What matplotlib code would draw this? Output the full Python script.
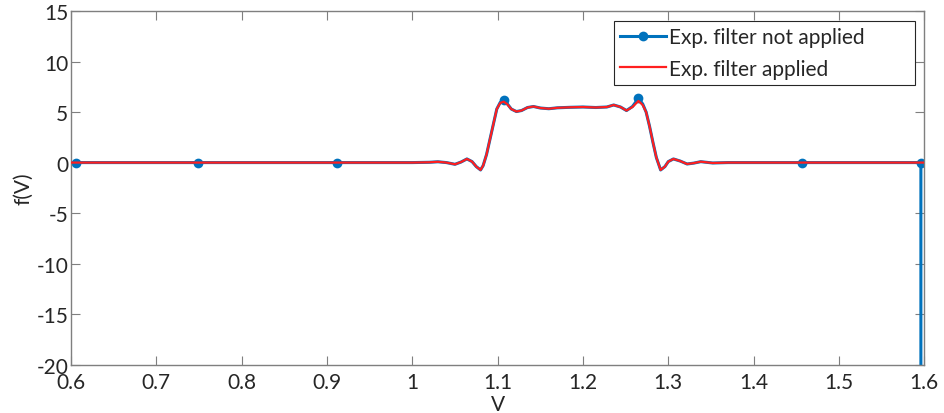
import matplotlib
matplotlib.use("Agg")
import matplotlib.pyplot as plt

plt.rcParams['font.family'] = ['Lato', 'DejaVu Sans']
plt.rcParams['axes.unicode_minus'] = False

# Curve samples (V, f(V))
v = [0.600, 0.606, 0.749, 0.912, 1.000, 1.020, 1.030, 1.040, 1.050, 1.057, 1.064,
     1.070, 1.075, 1.080, 1.083, 1.087, 1.091, 1.095, 1.099, 1.103, 1.107, 1.111,
     1.116, 1.122, 1.128, 1.135, 1.142, 1.150, 1.160, 1.170, 1.185, 1.200, 1.215,
     1.228, 1.236, 1.244, 1.251, 1.258, 1.265, 1.270, 1.274, 1.278, 1.282, 1.286,
     1.291, 1.296, 1.300, 1.306, 1.314, 1.322, 1.330, 1.338, 1.352, 1.370, 1.457,
     1.596]
f_filtered = [0.0, 0.0, 0.0, 0.0, 0.0, 0.03, 0.08, 0.0, -0.17, 0.05, 0.36,
              0.1, -0.4, -0.73, -0.3, 0.8, 2.3, 3.8, 5.3, 5.9, 6.03, 5.8,
              5.3, 5.05, 5.15, 5.45, 5.55, 5.4, 5.33, 5.42, 5.47, 5.5, 5.45,
              5.5, 5.7, 5.5, 5.15, 5.5, 6.1, 5.7, 5.0, 3.6, 2.0, 0.5,
              -0.73, -0.4, 0.1, 0.36, 0.15, -0.14, -0.05, 0.09, -0.04, 0.0, 0.0,
              0.0]
f_raw = [0.0, 0.0, 0.0, 0.0, 0.0, 0.03, 0.08, 0.0, -0.17, 0.05, 0.36,
         0.1, -0.4, -0.73, -0.3, 0.8, 2.3, 3.8, 5.3, 5.95, 6.2, 5.85,
         5.3, 5.05, 5.15, 5.45, 5.55, 5.4, 5.33, 5.42, 5.47, 5.5, 5.45,
         5.5, 5.7, 5.5, 5.15, 5.55, 6.35, 5.8, 5.0, 3.6, 2.0, 0.5,
         -0.73, -0.4, 0.1, 0.36, 0.15, -0.14, -0.05, 0.09, -0.04, 0.0, 0.0,
         0.0]
# raw series ends with a divergent sample at the right edge
v_raw_tail = [1.596]
f_raw_tail = [-60.0]
# filtered series continues to the axis end
v_filt_tail = [1.600]
f_filt_tail = [0.0]

marker_v = [0.606, 0.749, 0.912, 1.107, 1.265, 1.457, 1.596]

v_raw = v + v_raw_tail
y_raw = f_raw + f_raw_tail
v_filt = v + v_filt_tail
y_filt = f_filtered + f_filt_tail
mark_idx = [v.index(m) for m in marker_v]

xticks = [0.6, 0.7, 0.8, 0.9, 1.0, 1.1, 1.2, 1.3, 1.4, 1.5, 1.6]
xticklabels = ['0.6', '0.7', '0.8', '0.9', '1', '1.1', '1.2', '1.3', '1.4', '1.5', '1.6']
yticks = [-20, -15, -10, -5, 0, 5, 10, 15]
yticklabels = ['-20', '-15', '-10', '-5', '0', '5', '10', '15']

fig = plt.figure(figsize=(9.45, 4.14), dpi=100)
ax = fig.add_axes([0.0751, 0.1167, 0.9030, 0.8543])

blue = '#0072BD'
red = '#FF1F1F'
ax.plot(v_raw, y_raw, '-o', color=blue, lw=2.2, ms=5.5, mfc=blue, mec=blue,
        mew=1.5, markevery=mark_idx, label='Exp. filter not applied', zorder=2)
ax.plot(v_filt, y_filt, '-', color=red, lw=1.6, label='Exp. filter applied', zorder=3)

ax.set_xlim(0.6, 1.6)
ax.set_ylim(-20, 15)
ax.set_xticks(xticks)
ax.set_xticklabels(xticklabels)
ax.set_yticks(yticks)
ax.set_yticklabels(yticklabels)

axcol = '#7f7f7f'
txtcol = '#262626'
for s in ax.spines.values():
    s.set_color(axcol)
    s.set_linewidth(1.0)
ax.tick_params(direction='in', length=6.5, width=0.8, colors=axcol,
               labelcolor=txtcol, labelsize=15, top=True, right=True)
ax.tick_params(axis='x', pad=5)
ax.tick_params(axis='y', pad=2)
ax.set_xlabel('V', fontsize=15, color=txtcol, labelpad=2)
ax.set_ylabel('f(V)', fontsize=15, color=txtcol, labelpad=2)

leg = ax.legend(loc='upper left', fontsize=15, frameon=True, fancybox=False,
                borderpad=0.3, handlelength=2.2, handletextpad=0.15,
                labelspacing=0.55, borderaxespad=0.0, mode='expand',
                bbox_to_anchor=(0.636, 0.785, 0.353, 0.187))
leg.get_frame().set_edgecolor('#262626')
leg.get_frame().set_linewidth(0.8)
leg.get_frame().set_alpha(1)
for t in leg.get_texts():
    t.set_color(txtcol)

fig.savefig('out.png', dpi=100)
